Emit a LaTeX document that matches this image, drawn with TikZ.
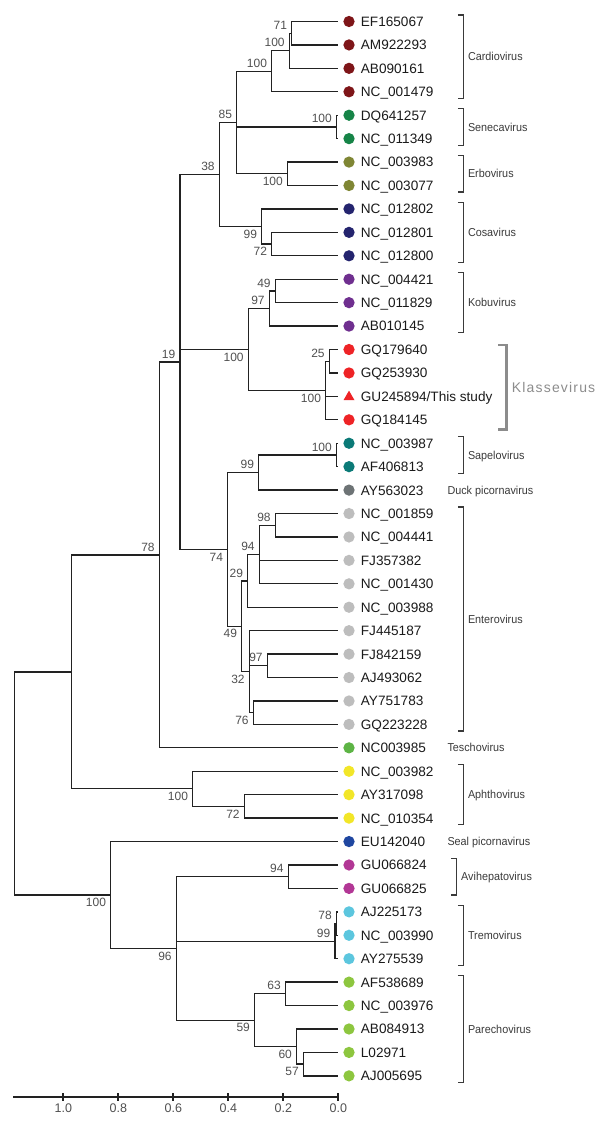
\documentclass[tikz,border=0pt]{standalone}
\usepackage{fontspec}
\setmainfont{Liberation Sans}
\newfontfamily\cladefont[FakeStretch=0.94]{Liberation Sans}
\newfontfamily\klassefont[LetterSpace=8.4]{Liberation Sans}
\usetikzlibrary{shapes.geometric}

\definecolor{treeline}{HTML}{222222}
\definecolor{leaftext}{HTML}{1A1A1A}
\definecolor{bstext}{HTML}{505050}
\definecolor{cladetext}{HTML}{3A3A3A}
\definecolor{klassegray}{HTML}{8C8C8C}
\definecolor{cardio}{HTML}{7E1518}
\definecolor{seneca}{HTML}{168447}
\definecolor{erbo}{HTML}{7F8634}
\definecolor{cosa}{HTML}{24246E}
\definecolor{kobu}{HTML}{6F2F8F}
\definecolor{klasse}{HTML}{EE2326}
\definecolor{sapelo}{HTML}{0B7A77}
\definecolor{duck}{HTML}{6D7375}
\definecolor{entero}{HTML}{BDBDBD}
\definecolor{tescho}{HTML}{5DB445}
\definecolor{aphtho}{HTML}{F2E628}
\definecolor{seal}{HTML}{1F46A0}
\definecolor{avi}{HTML}{B23795}
\definecolor{tremo}{HTML}{5CC6DE}
\definecolor{parecho}{HTML}{8DC63F}

\begin{document}
\begin{tikzpicture}[x=1pt, y=-1pt,
    branch/.style={line width=1.3pt, draw=treeline},
    leafdot/.style={circle, inner sep=0pt, minimum size=11.3pt},
    leaftri/.style={regular polygon, regular polygon sides=3, inner sep=0pt, minimum size=12.7pt},
    leaflabel/.style={anchor=base west, inner sep=0pt, text=leaftext, font=\fontsize{13.6}{16}\selectfont},
    bsup/.style={anchor=base east, inner sep=0pt, xshift=-4.5pt, yshift=3.9pt, text=bstext, font=\fontsize{12}{14}\selectfont},
    bsdown/.style={bsup, yshift=-15.5pt},
    clade/.style={anchor=base west, inner sep=0pt, text=cladetext, font=\cladefont\fontsize{11.5}{14}\selectfont},
    bracket/.style={line width=1.2pt, draw=cladetext},
    axisline/.style={line width=2pt, draw=treeline},
    ticklabel/.style={inner sep=0pt, text=bstext, font=\fontsize{12.5}{14}\selectfont}]
    \useasboundingbox (0,0) rectangle (600,1123);

    % leaves: tip, marker and accession
    \foreach \name/\col [count=\i from 0] in {EF165067/cardio, AM922293/cardio, AB090161/cardio, NC\_001479/cardio,
        DQ641257/seneca, NC\_011349/seneca, NC\_003983/erbo, NC\_003077/erbo,
        NC\_012802/cosa, NC\_012801/cosa, NC\_012800/cosa,
        NC\_004421/kobu, NC\_011829/kobu, AB010145/kobu,
        GQ179640/klasse, GQ253930/klasse, {GU245894/This study}/klasse, GQ184145/klasse,
        NC\_003987/sapelo, AF406813/sapelo, AY563023/duck,
        NC\_001859/entero, NC\_004441/entero, FJ357382/entero, NC\_001430/entero, NC\_003988/entero,
        FJ445187/entero, FJ842159/entero, AJ493062/entero, AY751783/entero, GQ223228/entero,
        NC003985/tescho, NC\_003982/aphtho, AY317098/aphtho, NC\_010354/aphtho,
        EU142040/seal, GU066824/avi, GU066825/avi,
        AJ225173/tremo, NC\_003990/tremo, AY275539/tremo,
        AF538689/parecho, NC\_003976/parecho, AB084913/parecho, L02971/parecho, AJ005695/parecho} {
        \pgfmathsetmacro\yy{21.5+23.43*\i}
        \coordinate (l\i) at (338,\yy);
        \ifnum\i=16
            \node[leaftri, fill=\col] (d\i) at (349,\yy+0.6) {};
        \else
            \node[leafdot, fill=\col] (d\i) at (349,\yy) {};
        \fi
        \node[leaflabel] (t\i) at (360.7,\yy+4.9) {\name};
    }

    % internal nodes
    \coordinate (nA) at (291.7,33.2);
    \coordinate (nB) at (289.3,50.8);
    \coordinate (nC) at (271.7,71.3);
    \coordinate (seneca) at (336.5,126.9);
    \coordinate (erbo) at (287.5,173.8);
    \coordinate (nD) at (236.7,122.55);
    \coordinate (cosaS) at (271.7,244.1);
    \coordinate (cosa) at (261.7,226.5);
    \coordinate (nE) at (219.3,174.5);
    \coordinate (koboS) at (275.3,290.9);
    \coordinate (kobu) at (269.3,308.5);
    \coordinate (klasS) at (329.3,361.2);
    \coordinate (klas) at (325.7,390.5);
    \coordinate (nKK) at (248.3,349.5);
    \coordinate (sapelo) at (336.5,454.96);
    \coordinate (sapduck) at (258.7,472.5);
    \coordinate (n98) at (275.3,525.2);
    \coordinate (n94) at (259.3,554.5);
    \coordinate (n29) at (247.7,580.9);
    \coordinate (n97) at (267.3,665.8);
    \coordinate (n76) at (253.3,712.7);
    \coordinate (n32) at (249.3,671.7);
    \coordinate (n49) at (241.7,626.3);
    \coordinate (n74) at (227.7,549.4);
    \coordinate (nF) at (180,361.95);
    \coordinate (nG) at (159.3,554.9);
    \coordinate (aphS) at (244.3,806.4);
    \coordinate (aph) at (192.7,788.8);
    \coordinate (nH) at (71.7,671.85);
    \coordinate (avi) at (288.2,876.7);
    \coordinate (treS) at (336.5,923.6);
    \coordinate (tre) at (335,941.2);
    \coordinate (p63) at (285.5,993.8);
    \coordinate (p57) at (303.4,1064.1);
    \coordinate (p60) at (296.6,1046.5);
    \coordinate (p59) at (254.6,1020.2);
    \coordinate (nJ) at (176.3,948.45);
    \coordinate (nI) at (110.7,895);
    \coordinate (root) at (14.5,783.4);

    % branches
    \draw[branch]
        (nA) |- (l0)  (nA) |- (l1)
        (nB) |- (nA)  (nB) |- (l2)
        (nC) |- (nB)  (nC) |- (l3)
        (seneca) |- (l4)  (seneca) |- (l5)
        (erbo) |- (l6)  (erbo) |- (l7)
        (nD) |- (nC)  (nD) |- (seneca)  (nD) |- (erbo)
        (cosaS) |- (l9)  (cosaS) |- (l10)
        (cosa) |- (l8)  (cosa) |- (cosaS)
        (nE) |- (nD)  (nE) |- (cosa)
        (koboS) |- (l11)  (koboS) |- (l12)
        (kobu) |- (koboS)  (kobu) |- (l13)
        (klasS) |- (l14)  (klasS) |- (l15)
        (klas) |- (klasS)  (klas) |- (l16)  (klas) |- (l17)
        (nKK) |- (kobu)  (nKK) |- (klas)
        (sapelo) |- (l18)  (sapelo) |- (l19)
        (sapduck) |- (sapelo)  (sapduck) |- (l20)
        (n98) |- (l21)  (n98) |- (l22)
        (n94) |- (n98)  (n94) |- (l23)  (n94) |- (l24)
        (n29) |- (n94)  (n29) |- (l25)
        (n97) |- (l27)  (n97) |- (l28)
        (n76) |- (l29)  (n76) |- (l30)
        (n32) |- (l26)  (n32) |- (n97)  (n32) |- (n76)
        (n49) |- (n29)  (n49) |- (n32)
        (n74) |- (sapduck)  (n74) |- (n49)
        (nF) |- (nE)  (nF) |- (nKK)  (nF) |- (n74)
        (nG) |- (nF)  (nG) |- (l31)
        (aphS) |- (l33)  (aphS) |- (l34)
        (aph) |- (l32)  (aph) |- (aphS)
        (nH) |- (nG)  (nH) |- (aph)
        (avi) |- (l36)  (avi) |- (l37)
        (treS) |- (l38)  (treS) |- (l39)
        (tre) |- (treS)  (tre) |- (l40)
        (p63) |- (l41)  (p63) |- (l42)
        (p57) |- (l44)  (p57) |- (l45)
        (p60) |- (l43)  (p60) |- (p57)
        (p59) |- (p63)  (p59) |- (p60)
        (nJ) |- (avi)  (nJ) |- (tre)  (nJ) |- (p59)
        (nI) |- (l35)  (nI) |- (nJ)
        (root) |- (nH)  (root) |- (nI);

    % bootstrap values
    \node[bsup] (bA) at (nA) {71};
    \node[bsup] (bB) at (nB) {100};
    \node[bsup] (bC) at (nC) {100};
    \node[bsup] (bSeneca) at (seneca) {100};
    \node[bsdown] (bErbo) at (erbo) {100};
    \node[bsup] (bD) at (nD) {85};
    \node[bsdown] (bCosa) at (cosa) {99};
    \node[bsdown] (bCosaS) at (cosaS) {72};
    \node[bsup] (bE) at (nE) {38};
    \node[bsup] (bKoboS) at (koboS) {49};
    \node[bsup] (bKobu) at (kobu) {97};
    \node[bsup] (bKlasS) at (klasS) {25};
    \node[bsdown] (bKlas) at (klas) {100};
    \node[bsdown] (bKK) at (nKK) {100};
    \node[bsup] (bSapelo) at (sapelo) {100};
    \node[bsup] (bSapDuck) at (sapduck) {99};
    \node[bsup] (b98) at (n98) {98};
    \node[bsup] (b94) at (n94) {94};
    \node[bsup] (b29) at (n29) {29};
    \node[bsup] (b97) at (n97) {97};
    \node[bsdown] (b76) at (n76) {76};
    \node[bsdown] (b32) at (n32) {32};
    \node[bsdown] (b49) at (n49) {49};
    \node[bsdown] (b74) at (n74) {74};
    \node[bsup] (bF) at (nF) {19};
    \node[bsup] (bG) at (nG) {78};
    \node[bsdown] (bAphS) at (aphS) {72};
    \node[bsdown] (bAph) at (aph) {100};
    \node[bsup] (bAvi) at (avi) {94};
    \node[bsup] (bTreS) at (treS) {78};
    \node[bsup] (bTre) at (tre) {99};
    \node[bsup] (b63) at (p63) {63};
    \node[bsdown] (b57) at (p57) {57};
    \node[bsdown] (b60) at (p60) {60};
    \node[bsdown] (b59) at (p59) {59};
    \node[bsdown] (bJ) at (nJ) {96};
    \node[bsdown] (bI) at (nI) {100};

    % genus brackets
    \foreach \a/\b/\bx/\lab in {0/3/463.3/Cardiovirus, 4/5/463.3/Senecavirus, 6/7/463.3/Erbovirus,
        8/10/463.3/Cosavirus, 11/13/463.3/Kobuvirus, 18/19/463.3/Sapelovirus, 21/30/463.3/Enterovirus,
        32/34/463.3/Aphthovirus, 36/37/456.5/Avihepatovirus, 38/40/463.3/Tremovirus, 41/45/463.3/Parechovirus} {
        \pgfmathsetmacro\ya{21.5+23.43*\a-6.5}
        \pgfmathsetmacro\yb{21.5+23.43*\b+6.5}
        \pgfmathsetmacro\ym{21.5+23.43*(\a+\b)/2+4.1}
        \draw[bracket] (\bx-5.5,\ya) -| (\bx,\yb) -- (\bx-5.5,\yb);
        \node[clade] (c\a) at (\bx+4.5,\ym) {\lab};
    }
    \node[clade] (cDuck) at (447.3,494.2) {Duck picornavirus};
    \node[clade] (cTescho) at (447.3,751.9) {Teschovirus};
    \node[clade] (cSeal) at (447.3,845.6) {Seal picornavirus};

    \draw[line width=2.7pt, draw=klassegray] (498.3,345) -| (506.7,429.3) -- (498.3,429.3);
    \node[anchor=west, inner sep=0pt, text=klassegray, font=\klassefont\fontsize{14}{16}\selectfont] (cKlasse) at (511.7,387.3) {Klassevirus};

    % scale bar
    \coordinate (ax0) at (13.3,1097.3);
    \coordinate (ax1) at (338.3,1097.3);
    \draw[axisline] (ax0) -- (ax1);
    \foreach \k/\lab in {0/0.0, 1/0.2, 2/0.4, 3/0.6, 4/0.8, 5/1.0} {
        \draw[axisline] (338.3-55*\k,1093.3) -- (338.3-55*\k,1100.7);
        \node[ticklabel] (s\k) at (338.3-55*\k,1108.3) {\lab};
    }
\end{tikzpicture}
\end{document}
